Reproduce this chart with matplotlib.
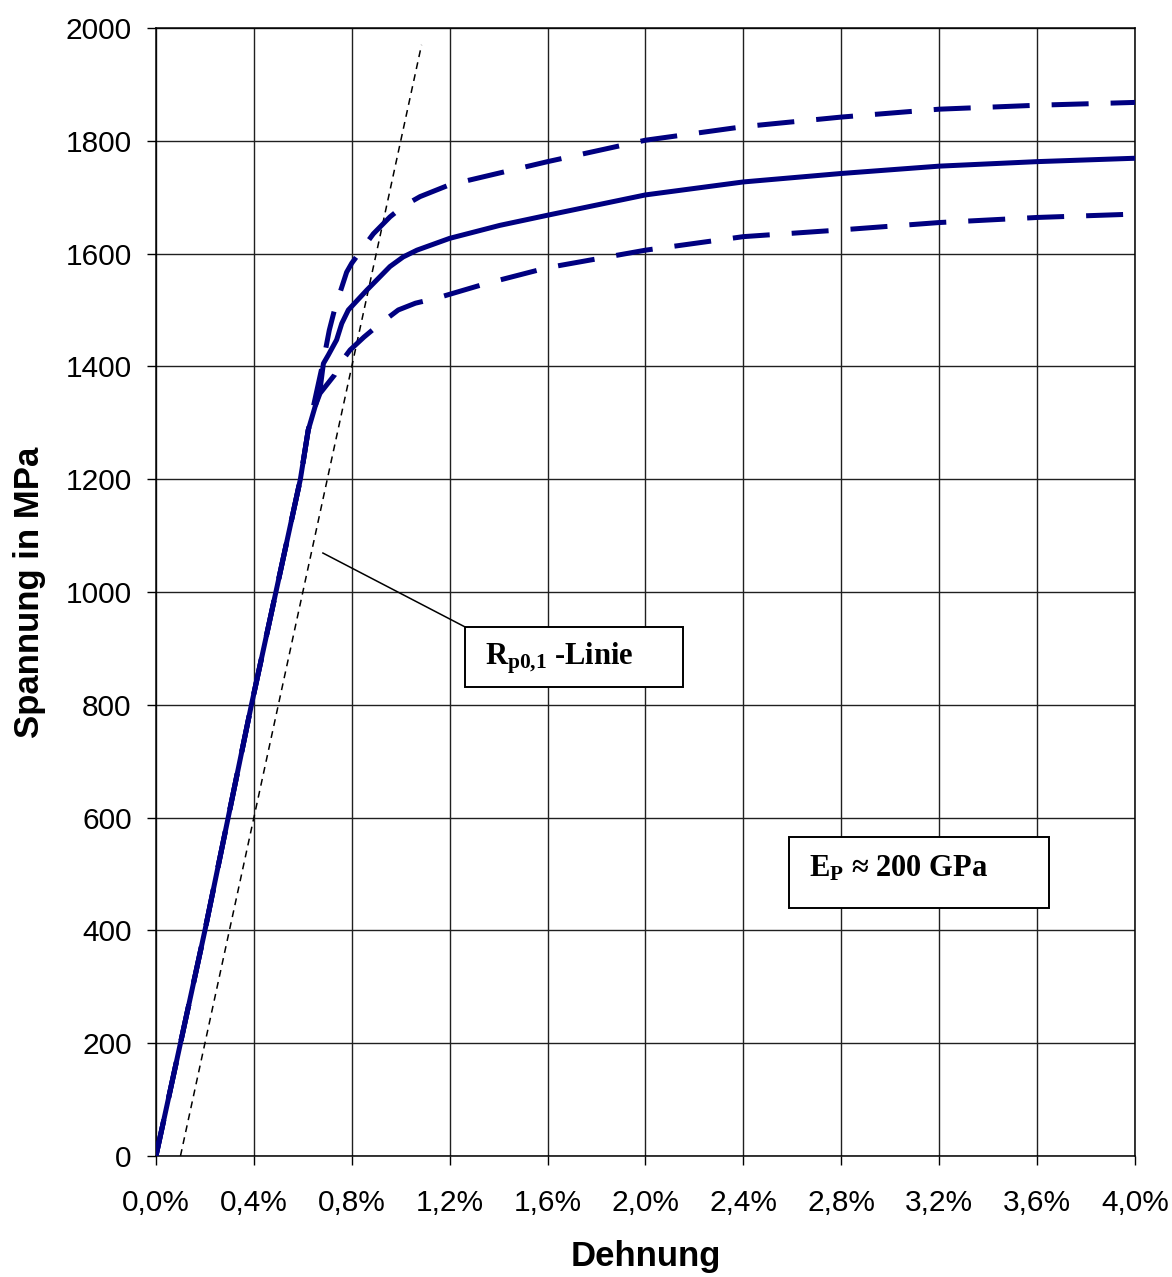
import matplotlib
matplotlib.use("Agg")
import matplotlib.pyplot as plt
from matplotlib.patches import Rectangle
from matplotlib.ticker import FuncFormatter

# Dehnung in %, Spannung in MPa
mittel_eps = [0, 0.1, 0.2, 0.39, 0.59, 0.622, 0.67, 0.684, 0.704, 0.738, 0.759, 0.786,
              0.861, 0.956, 1.01, 1.066, 1.2, 1.405, 1.6, 2.0, 2.4, 2.8, 3.2, 3.6, 4.0]
mittel_sig = [0, 200, 400, 800, 1200, 1287, 1358, 1405, 1420, 1447, 1476, 1500,
              1535, 1577, 1594, 1606, 1627, 1650, 1668, 1704, 1727, 1742, 1755, 1763, 1769]

oben_eps = [0, 0.1, 0.2, 0.39, 0.59, 0.622, 0.684, 0.708, 0.731, 0.779, 0.8, 0.888,
            0.956, 1.01, 1.079, 1.2, 1.6, 2.0, 2.4, 2.8, 3.2, 3.6, 4.0]
oben_sig = [0, 200, 400, 800, 1200, 1287, 1410, 1464, 1503, 1567, 1583, 1635,
            1665, 1684, 1701, 1722, 1763, 1801, 1825, 1842, 1856, 1863, 1868]

unten_eps = [0, 0.1, 0.2, 0.39, 0.59, 0.622, 0.65, 0.67, 0.73, 0.752, 0.793, 0.85,
             0.908, 0.99, 1.06, 1.147, 1.35, 1.6, 2.0, 2.4, 2.8, 3.2, 3.6, 4.0]
unten_sig = [0, 200, 400, 800, 1200, 1287, 1329, 1352, 1385, 1405, 1429, 1452,
             1473, 1500, 1512, 1521, 1547, 1575, 1606, 1630, 1642, 1655, 1664, 1670]

# Rp0,1-Linie
rp_eps = [0.1, 1.085]
rp_sig = [0, 1970]

x_ticks = [0.0, 0.4, 0.8, 1.2, 1.6, 2.0, 2.4, 2.8, 3.2, 3.6, 4.0]
y_ticks = [0, 200, 400, 600, 800, 1000, 1200, 1400, 1600, 1800, 2000]

plt.rcParams['font.family'] = ['Liberation Sans', 'DejaVu Sans']
plt.rcParams['mathtext.fontset'] = 'custom'
plt.rcParams['mathtext.rm'] = 'Liberation Serif:bold'
plt.rcParams['mathtext.bf'] = 'Liberation Serif:bold'
plt.rcParams['mathtext.it'] = 'Liberation Serif:bold'

farbe = '#000080'
strich = (0, (7.4, 4.4))

fig = plt.figure(figsize=(11.72, 12.77), dpi=100)
ax = fig.add_axes([0.1331, 0.0948, 0.9684 - 0.1331, 0.9781 - 0.0948])

ax.plot(oben_eps, oben_sig, color=farbe, lw=3.6, linestyle=strich, zorder=3)
ax.plot(unten_eps, unten_sig, color=farbe, lw=3.6, linestyle=strich, zorder=3)
ax.plot(mittel_eps, mittel_sig, color=farbe, lw=3.6, zorder=4)
ax.plot(rp_eps, rp_sig, color='black', lw=1.1, linestyle=(0, (4.5, 3.5)), zorder=2)

ax.set_xlim(0, 4.0)
ax.set_ylim(0, 2000)
ax.set_xticks(x_ticks)
ax.set_yticks(y_ticks)
ax.xaxis.set_major_formatter(FuncFormatter(lambda v, p: f"{v:.1f}%".replace('.', ',')))
ax.tick_params(axis='both', direction='out', length=6.5, width=1, labelsize=21.5, color='black')
ax.tick_params(axis='x', pad=17)
ax.tick_params(axis='y', pad=11)
ax.grid(True, color='#202020', lw=1.0)
ax.set_axisbelow(True)
for s in ax.spines.values():
    s.set_color('black')
    s.set_linewidth(1.1)

ax.set_xlabel("Dehnung", fontsize=25, fontweight='bold', labelpad=17)
ax.set_ylabel("Spannung in MPa", fontsize=25, fontweight='bold', labelpad=14)

# Beschriftungen
ax.plot([0.682, 1.2625], [1069, 938], color='black', lw=1.1, zorder=5)
ax.add_patch(Rectangle((1.2625, 831.6), 2.153 - 1.2625, 938 - 831.6,
                       facecolor='white', edgecolor='black', lw=1.4, zorder=6))
ax.text(1.345, 882, r"$\mathrm{R_{p0{,}1}}$ -Linie", fontsize=22, fontweight='bold',
        family='Liberation Serif', va='center', ha='left', zorder=7)

ax.add_patch(Rectangle((2.587, 439.7), 3.649 - 2.587, 565.6 - 439.7,
                       facecolor='white', edgecolor='black', lw=1.4, zorder=6))
ax.text(2.67, 510, r"E$\mathrm{_P}$ ≈ 200 GPa", fontsize=22, fontweight='bold',
        family='Liberation Serif', va='center', ha='left', zorder=7)

fig.savefig("out.png", dpi=100)
